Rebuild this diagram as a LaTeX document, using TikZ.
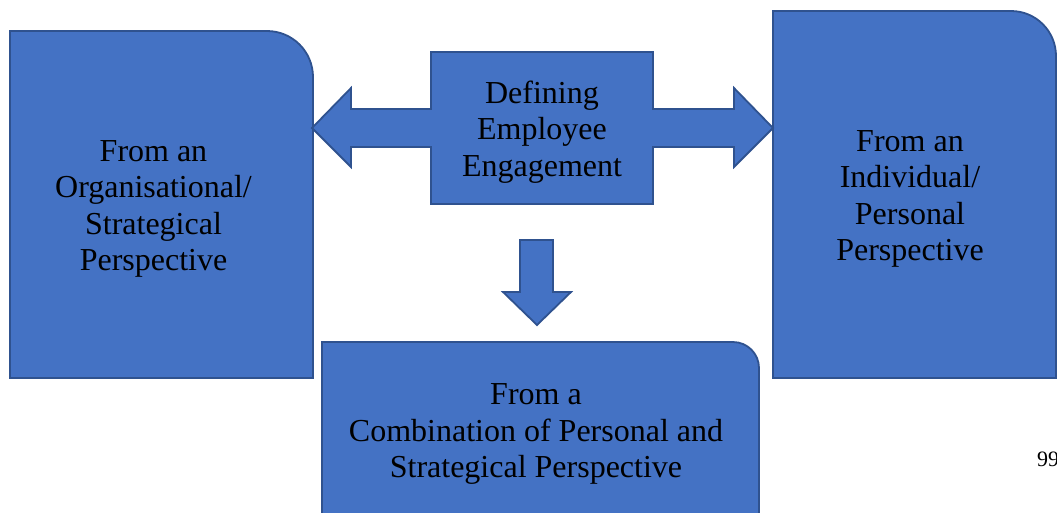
\documentclass[tikz,border=0pt]{standalone}
\usepackage{fontspec}
\setmainfont{Liberation Serif}
\definecolor{boxfill}{HTML}{4472C4}
\definecolor{boxline}{HTML}{2F528F}
\begin{document}
\begin{tikzpicture}[x=1pt,y=-1pt,
  shapestyle/.style={fill=boxfill,draw=boxline,line width=1.8pt,line join=miter},
  label/.style={align=center,inner sep=0pt,font=\fontsize{32}{36.5}\selectfont,text=black}]
\useasboundingbox (0,0) rectangle (1057,512);
% left box
\draw[shapestyle] (10,378) -- (10,31) -- (267,31) arc[start angle=-90,end angle=0,radius=46] -- (313,378) -- cycle;
% right box
\draw[shapestyle] (773,378) -- (773,11) -- (1011,11) arc[start angle=-90,end angle=0,radius=45] -- (1056,378) -- cycle;
% bottom box
\draw[shapestyle] (322,530) -- (322,342) -- (733,342) arc[start angle=-90,end angle=0,radius=26] -- (759,530) -- cycle;
% centre box with double arrow
\draw[shapestyle] (431,52) -- (653,52) -- (653,109) -- (734,109) -- (734,88) -- (773,128)
  -- (734,167) -- (734,147) -- (653,147) -- (653,204) -- (431,204) -- (431,147)
  -- (351,147) -- (351,167) -- (312,128) -- (351,88) -- (351,109) -- (431,109) -- cycle;
% down arrow
\draw[shapestyle] (520,240) -- (553,240) -- (553,292) -- (571,292) -- (537,325) -- (503,292) -- (520,292) -- cycle;
% texts
\node[label] (org) at (153.5,209) {From an\\Organisational/\\Strategical\\Perspective};
\node[label] (def) at (542,132) {Defining\\Employee\\Engagement};
\node[label] (ind) at (910,199) {From an\\Individual/\\Personal\\Perspective};
\node[label] (comb) at (536,434) {From a\\Combination of Personal and\\Strategical Perspective};
\node[anchor=base west,inner sep=0pt,font=\fontsize{22}{26}\selectfont] (page) at (1037,466) {99};
\end{tikzpicture}
\end{document}
